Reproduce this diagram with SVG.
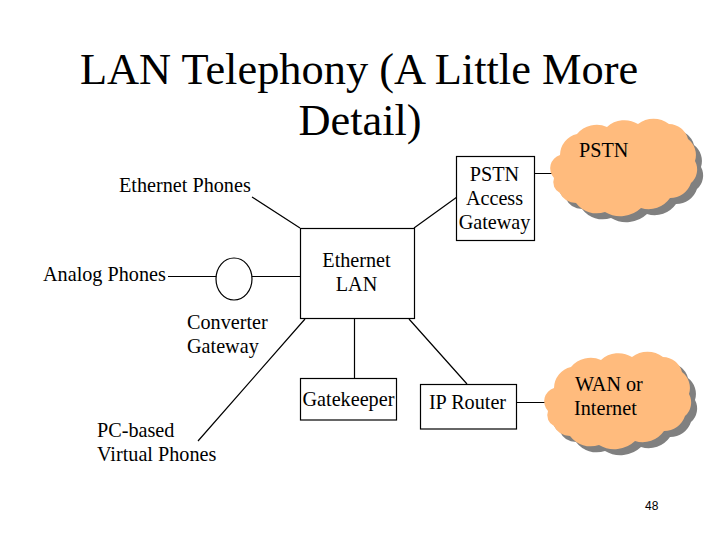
<svg xmlns="http://www.w3.org/2000/svg" width="720" height="540" viewBox="0 0 720 540">
<style>
text{font-family:"Liberation Serif","Times New Roman",serif;fill:#000}
.t{font-size:44.4px;text-anchor:middle}
.l{font-size:20.2px}
.m{text-anchor:middle}
.b{fill:#fff;stroke:#000;stroke-width:1.2}
.c{stroke:#000;stroke-width:1.2;fill:none}
.sh{fill:#808080}
.cl{fill:#ffbb7d}
</style>
<defs>
<path id="cloud" d="M554 178A14 14 0 0 1 560 155A22 22 0 0 1 577 134A26 26 0 0 1 607 127A26 26 0 0 1 638 124A26 26 0 0 1 669 124A20 20 0 0 1 688 139A20 20 0 0 1 695 161A18 18 0 0 1 691 183A22 22 0 0 1 670 198A26 26 0 0 1 641 208A30 30 0 0 1 605 212A26 26 0 0 1 576 203A18 18 0 0 1 560 193A12 12 0 0 1 554 178Z"/>
</defs>
<rect width="720" height="540" fill="#fff"/>
<text class="t" x="359" y="84">LAN Telephony (A Little More</text>
<text class="t" x="360" y="135">Detail)</text>
<g id="connectors">
<path class="c" d="M252 197L300 228M168 276.500H217M252 276.500H300M414 228L457 197M354.500 319V378M409 319L467 384M305 319L198 441M534 173.500H554M517 402.500H547"/>
</g>
<g id="ethernet-phones"><text class="l" x="119" y="192">Ethernet Phones</text></g>
<g id="analog-phones"><text class="l" x="43" y="281">Analog Phones</text></g>
<g id="converter-gateway">
<ellipse class="b" cx="234" cy="279" rx="18" ry="21"/>
<text class="l" x="187" y="329">Converter</text>
<text class="l" x="187" y="353">Gateway</text>
</g>
<g id="ethernet-lan">
<rect class="b" x="300.500" y="228.500" width="114" height="90"/>
<text class="l m" x="356.500" y="267">Ethernet</text>
<text class="l m" x="356.500" y="291">LAN</text>
</g>
<g id="pstn-gateway">
<rect class="b" x="456.500" y="156.500" width="78" height="84"/>
<text class="l m" x="494.500" y="181">PSTN</text>
<text class="l m" x="494.500" y="205">Access</text>
<text class="l m" x="494.500" y="229">Gateway</text>
</g>
<g id="gatekeeper">
<rect class="b" x="300.500" y="378.500" width="96" height="41.500"/>
<text class="l" x="302.500" y="406">Gatekeeper</text>
</g>
<g id="ip-router">
<rect class="b" x="420.500" y="384.500" width="96" height="44.500"/>
<text class="l m" x="467.500" y="409">IP Router</text>
</g>
<g id="pc-phones">
<text class="l" x="97" y="437">PC-based</text>
<text class="l" x="97" y="461">Virtual Phones</text>
</g>
<g id="pstn-cloud">
<use href="#cloud" class="sh" x="6" y="6"/>
<use href="#cloud" class="cl"/>
<text class="l" x="579" y="157">PSTN</text>
</g>
<g id="wan-cloud">
<use href="#cloud" class="sh" y="239"/>
<use href="#cloud" class="cl" x="-6" y="233"/>
<text class="l" x="575" y="391">WAN or</text>
<text class="l" x="574" y="415">Internet</text>
</g>
<text x="645" y="510" style="font-family:'Liberation Sans',sans-serif;font-size:12px">48</text>
</svg>
